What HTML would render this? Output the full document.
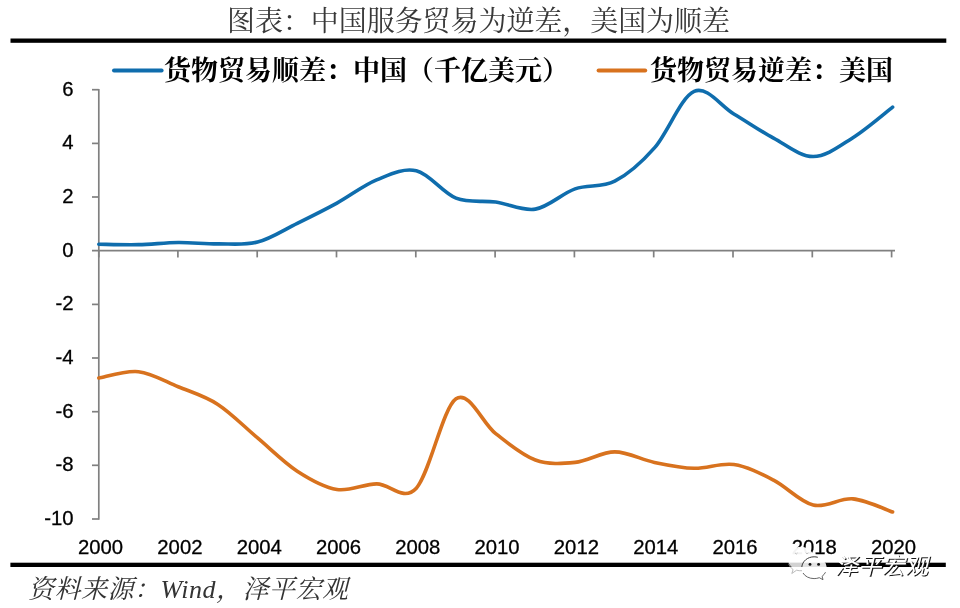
<!DOCTYPE html>
<html lang="zh-CN"><head><meta charset="utf-8"><title>图表：中国服务贸易为逆差，美国为顺差</title>
<style>html,body{margin:0;padding:0;background:#fff;width:960px;height:608px;overflow:hidden;font-family:"Liberation Sans","Noto Sans CJK SC",sans-serif}svg text{font-family:"Liberation Sans","Noto Sans CJK SC",sans-serif}</style>
</head><body>
<svg width="960" height="608" viewBox="0 0 960 608" style="display:block;will-change:transform">
<rect width="960" height="608" fill="#fff"/>
<text x="227" y="31" font-size="28" fill="#383838" textLength="503" style="font-family:'Liberation Serif','Noto Serif CJK SC',serif">图表：中国服务贸易为逆差，美国为顺差</text>
<rect x="10.5" y="38.5" width="935.8" height="4.3" fill="#000"/>
<rect x="10.4" y="562.7" width="935.4" height="4.3" fill="#000"/>
<line x1="114" y1="70.6" x2="161.6" y2="70.6" stroke="#0F6DAD" stroke-width="4" stroke-linecap="round"/>
<text x="164" y="80" font-size="27" font-weight="bold" fill="#000" textLength="405" style="font-family:'Liberation Serif','Noto Serif CJK SC',serif">货物贸易顺差：中国（千亿美元）</text>
<line x1="598.6" y1="70.4" x2="645.2" y2="70.4" stroke="#D8721E" stroke-width="4" stroke-linecap="round"/>
<text x="650" y="80" font-size="27" font-weight="bold" fill="#000" textLength="243" style="font-family:'Liberation Serif','Noto Serif CJK SC',serif">货物贸易逆差：美国</text>
<g stroke="#808080" stroke-width="1.7" fill="none"><path d="M98.8 88.9V519.85"/><path d="M92 250.7H895"/><path d="M92 519.0H98.8"/><path d="M92 465.3H98.8"/><path d="M92 411.7H98.8"/><path d="M92 358.0H98.8"/><path d="M92 304.4H98.8"/><path d="M92 197.0H98.8"/><path d="M92 143.4H98.8"/><path d="M92 89.7H98.8"/><path d="M98.8 250.7V257.4"/><path d="M177.9 250.7V257.4"/><path d="M257.2 250.7V257.4"/><path d="M336.5 250.7V257.4"/><path d="M415.8 250.7V257.4"/><path d="M495.1 250.7V257.4"/><path d="M574.4 250.7V257.4"/><path d="M653.7 250.7V257.4"/><path d="M733.0 250.7V257.4"/><path d="M812.3 250.7V257.4"/><path d="M891.6 250.7V257.4"/></g>
<g font-family="Liberation Sans, sans-serif" font-size="20.3" fill="#000" stroke="#000" stroke-width=".3" text-anchor="end">
<text x="73.6" y="524.8">-10</text>
<text x="73.6" y="471.1">-8</text>
<text x="73.6" y="417.5">-6</text>
<text x="73.6" y="363.8">-4</text>
<text x="73.6" y="310.2">-2</text>
<text x="73.6" y="256.5">0</text>
<text x="73.6" y="202.8">2</text>
<text x="73.6" y="149.2">4</text>
<text x="73.6" y="95.5">6</text>
</g>
<g font-family="Liberation Sans, sans-serif" font-size="20.3" fill="#000" stroke="#000" stroke-width=".3" text-anchor="middle">
<text x="100.6" y="554">2000</text>
<text x="179.9" y="554">2002</text>
<text x="259.2" y="554">2004</text>
<text x="338.5" y="554">2006</text>
<text x="417.8" y="554">2008</text>
<text x="497.1" y="554">2010</text>
<text x="576.4" y="554">2012</text>
<text x="655.7" y="554">2014</text>
<text x="735.0" y="554">2016</text>
<text x="814.3" y="554">2018</text>
<text x="893.6" y="554">2020</text>
</g>
<path d="M98.80 244.26 C105.41 244.33 125.26 244.95 138.49 244.66 C151.72 244.38 164.95 242.68 178.18 242.54 C191.41 242.41 204.64 243.93 217.87 243.86 C231.10 243.78 244.33 245.51 257.56 242.09 C270.79 238.67 284.02 229.84 297.25 223.33 C310.48 216.83 323.71 210.32 336.94 203.08 C350.17 195.83 363.40 185.26 376.63 179.87 C389.86 174.48 403.09 167.69 416.32 170.75 C429.55 173.80 442.78 192.98 456.01 198.19 C469.24 203.40 482.47 200.18 495.70 202.00 C508.93 203.83 522.16 211.32 535.39 209.14 C548.62 206.96 561.85 193.57 575.08 188.91 C588.31 184.26 601.54 188.04 614.77 181.21 C628.00 174.38 641.23 162.89 654.46 147.91 C667.69 132.94 680.92 97.02 694.15 91.36 C707.38 85.70 720.61 106.15 733.84 113.95 C747.07 121.74 760.30 131.02 773.53 138.12 C786.76 145.22 799.99 156.62 813.22 156.55 C826.45 156.49 839.68 145.95 852.91 137.72 C866.14 129.49 885.98 112.25 892.60 107.16" fill="none" stroke="#0F6DAD" stroke-width="3.6" stroke-linecap="round" stroke-linejoin="round"/>
<path d="M98.80 378.01 C105.41 376.96 125.26 370.25 138.49 371.70 C151.72 373.16 164.95 381.27 178.18 386.73 C191.41 392.18 204.64 395.90 217.87 404.44 C231.10 412.98 244.33 426.84 257.56 437.97 C270.79 449.11 284.02 462.66 297.25 471.24 C310.48 479.83 323.71 487.39 336.94 489.49 C350.17 491.59 363.40 484.08 376.63 483.85 C389.86 483.63 403.09 502.32 416.32 488.15 C429.55 473.97 442.78 407.88 456.01 398.80 C469.24 389.72 482.47 423.49 495.70 433.68 C508.93 443.88 522.16 455.19 535.39 459.97 C548.62 464.76 561.85 463.73 575.08 462.39 C588.31 461.05 601.54 451.92 614.77 451.92 C628.00 451.92 641.23 459.66 654.46 462.39 C667.69 465.12 680.92 467.93 694.15 468.29 C707.38 468.65 720.61 462.57 733.84 464.54 C747.07 466.50 760.30 473.34 773.53 480.10 C786.76 486.85 799.99 501.92 813.22 505.05 C826.45 508.18 839.68 497.71 852.91 498.88 C866.14 500.04 885.98 509.83 892.60 512.02" fill="none" stroke="#D8721E" stroke-width="3.6" stroke-linecap="round" stroke-linejoin="round"/>
<text x="28" y="598" font-size="26" font-style="italic" fill="#333" textLength="320" style="font-family:'Liberation Serif','Noto Serif CJK SC',serif">资料来源：Wind，泽平宏观</text>
<g id="wm">
<defs><clipPath id="cb"><path d="M800.8 546.8c7.2 0 13 5.100 13 11.500s-5.800 11.500-13 11.500c-1.500 0-2.900-.2-4.200-.6l-4.800 3.300 1.300-4.700c-3.200-2.100-5.300-5.500-5.300-9.500 0-6.400 5.800-11.500 13-11.500z"/></clipPath><clipPath id="cs"><path d="M814.1 556.8c6.900 0 12.400 5 12.400 11.100 0 3.400-1.700 6.400-4.400 8.400l.9 3.400-3.700-2c-1.600.6-3.400.9-5.200.9-6.900 0-12.400-4.800-12.400-10.700s5.500-11.100 12.400-11.100z"/></clipPath></defs>
<path d="M800.8 546.8c7.2 0 13 5.100 13 11.500s-5.800 11.500-13 11.500c-1.500 0-2.900-.2-4.200-.6l-4.800 3.300 1.300-4.700c-3.200-2.100-5.300-5.500-5.300-9.500 0-6.400 5.800-11.500 13-11.500z" fill="#fff" fill-opacity=".95"/>
<rect x="786" y="562.7" width="30" height="4.3" fill="#d2d2d2" clip-path="url(#cb)"/>
<path d="M788.6 563.5c.8 2.500 2.400 4.600 4.500 6.100l-1.300 3.900 4.800-3.300c1.700.5 3.500.7 5.400.5" fill="none" stroke="#aaa" stroke-width=".8"/>
<path d="M795 552.900l1.300 1.200 1.300-1.200M805.700 552.800l1.300 1.200 1.300-1.200" stroke="#bbb" stroke-width=".9" fill="none"/>
<path d="M814.1 556.8c6.900 0 12.400 5 12.400 11.100 0 3.400-1.700 6.400-4.400 8.400l.9 3.400-3.700-2c-1.600.6-3.400.9-5.200.9-6.900 0-12.400-4.800-12.400-10.700s5.500-11.100 12.400-11.100z" fill="#fff" fill-opacity=".96"/>
<rect x="800" y="562.7" width="30" height="4.300" fill="#e3e3e3" clip-path="url(#cs)"/>
<path d="M801.800 567c.5-5.700 5.800-10.200 12.300-10.200 1.300 0 2.500.2 3.700.5" fill="none" stroke="#3a3a3a" stroke-width="1"/>
<path d="M803 573c2 3.400 6.200 5.600 11.100 5.600 1.800 0 3.600-.3 5.200-.9l3.700 2-.9-3.400c1.500-1.100 2.700-2.500 3.400-4.100" fill="none" stroke="#555" stroke-width=".9"/>
<circle cx="810" cy="564.4" r="1.45" fill="#111"/><circle cx="818.6" cy="564.4" r="1.45" fill="#111"/>
<text x="836.100" y="574.900" font-size="23" font-style="italic" fill="#1a1a1a" textLength="93" style="font-family:'Liberation Sans','Noto Sans CJK SC',sans-serif">泽平宏观</text>
<text x="835" y="574" font-size="23" font-style="italic" fill="#fff" textLength="93" style="font-family:'Liberation Sans','Noto Sans CJK SC',sans-serif">泽平宏观</text>
</g>
</svg>
</body></html>
